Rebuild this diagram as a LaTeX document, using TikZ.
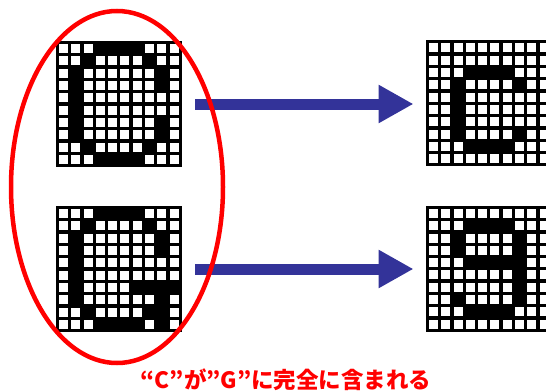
\documentclass[tikz,border=0pt]{standalone}
\usepackage{fontspec}
\newfontfamily\jpfont{Noto Sans CJK JP}
\usetikzlibrary{arrows.meta}
\definecolor{arrowblue}{RGB}{51,51,153}
\def\cellsz{12.3}
\newcommand\pixgrid[4]{%
  \begin{scope}[shift={(#2,#3)}]
    \coordinate (#1) at (0,0);
    \fill[black] (-1.6,-1.6) rectangle (10*\cellsz+1.6,10*\cellsz+1.6);
    \foreach \i in {0,...,9}{\foreach \j in {0,...,9}{%
      \fill[white] (\i*\cellsz+1.65,\j*\cellsz+1.65) rectangle ++(\cellsz-3.3,\cellsz-3.3);}}
    \foreach \c/\r in {#4}{\fill[black] (\c*\cellsz,\r*\cellsz) rectangle ++(\cellsz,\cellsz);}
  \end{scope}}
\tikzset{bigarrow/.style={arrowblue,line width=11pt,-{Triangle[length=35pt,width=36pt]}},
  ring/.style={red,line width=4.5pt},
  caption/.style={text=red,font=\jpfont\bfseries\fontsize{22.5}{26}\selectfont,inner sep=0pt}}
\begin{document}
\begin{tikzpicture}[x=1pt,y=-1pt]
\useasboundingbox (0,0) rectangle (546,391);
% C (top left)
\pixgrid{gC}{57.3}{42.5}{3/0,4/0,5/0,6/0,2/1,7/1,1/2,8/2,1/3,8/3,1/4,1/5,1/6,8/6,1/7,8/7,2/8,7/8,3/9,4/9,5/9,6/9}
% G (bottom left)
\pixgrid{gG}{57.3}{207.5}{3/0,4/0,5/0,6/0,2/1,7/1,1/2,8/2,1/3,8/3,1/4,1/5,1/6,6/6,7/6,8/6,9/6,1/7,8/7,2/8,7/8,8/8,3/9,4/9,5/9,6/9,8/9}
% small C (top right)
\pixgrid{gc}{427.3}{41.8}{3/2,4/2,5/2,6/2,2/3,7/3,2/4,2/5,2/6,2/7,7/7,3/8,4/8,5/8,6/8}
% 9 (bottom right)
\pixgrid{g9}{427.3}{207.3}{3/1,4/1,5/1,6/1,2/2,7/2,2/3,7/3,3/4,4/4,5/4,6/4,7/4,7/5,7/6,2/7,7/7,3/8,4/8,5/8,6/8}
% arrows
\coordinate (a1s) at (195,104);
\coordinate (a1e) at (413.5,104);
\coordinate (a2s) at (195,269);
\coordinate (a2e) at (413.5,269);
\draw[bigarrow] (a1s) -- (a1e);
\draw[bigarrow] (a2s) -- (a2e);
% ellipse
\draw[ring] (117,187) ellipse [x radius=106, y radius=176];
% caption
\node[caption] (cap) at (286,380) {“C”が”G”に完全に含まれる};
\end{tikzpicture}
\end{document}
